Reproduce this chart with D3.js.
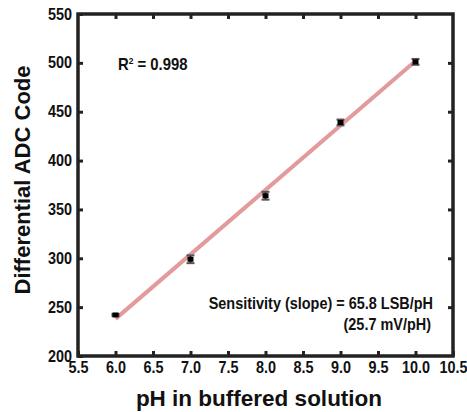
<!DOCTYPE html>
<html>
<head>
<meta charset="utf-8">
<script src="https://cdn.jsdelivr.net/npm/d3@7"></script>
<style>
  body { margin: 0; background: #fff; }
  text { font-family: "Liberation Sans", Arial, sans-serif; font-weight: bold; fill: #111; }
</style>
</head>
<body>
<svg id="chart" width="467" height="412"></svg>
<script>
const PH = [6, 7, 8, 9, 10]
const ADC = [242, 299, 364, 439, 501]
const ERR = [1, 4, 4, 3, 3]
const FIT_X = [6, 10]
const FIT_Y = [238, 502]
const X_TICKS = [5.5, 6.0, 6.5, 7.0, 7.5, 8.0, 8.5, 9.0, 9.5, 10.0, 10.5]
const Y_TICKS = [200, 250, 300, 350, 400, 450, 500, 550]

const LEFT = 78, RIGHT = 453, TOP = 14, BOTTOM = 356;
const AXIS = "#222";

let svg = d3.select("#chart");

let x = d3.scaleLinear().domain([5.5, 10.5]).range([LEFT, RIGHT]);
let y = d3.scaleLinear().domain([200, 550]).range([BOTTOM, TOP]);

// squeeze text horizontally around its own x, to get the narrow look of the original
function condense(sel, f) {
  sel.each(function () {
    let t = d3.select(this);
    let x0 = +t.attr("x") || 0;
    t.attr("x", x0 / f).attr("transform", `scale(${f},1)`);
  });
}

// axes, ticks pointing inward
let bottomAxis = d3.axisBottom(x).tickValues(X_TICKS).tickFormat(d3.format(".1f")).tickSizeInner(-5).tickSizeOuter(0).tickPadding(6);
let leftAxis = d3.axisLeft(y).tickValues(Y_TICKS).tickSizeInner(-5).tickSizeOuter(0).tickPadding(6);
let topAxis = d3.axisTop(x).tickValues(X_TICKS.slice(1, -1)).tickSizeInner(-5).tickSizeOuter(0).tickFormat("");
let rightAxis = d3.axisRight(y).tickValues(Y_TICKS.slice(1, -1)).tickSizeInner(-5).tickSizeOuter(0).tickFormat("");

function style(g) {
  g.select(".domain").remove();
  g.selectAll(".tick line").attr("stroke", AXIS).attr("stroke-width", 3);
  g.selectAll(".tick text").attr("font-size", 16).attr("fill", "#111").call(condense, 0.9);
}

svg.append("g").attr("transform", `translate(0,${BOTTOM})`).call(bottomAxis).call(style);
svg.append("g").attr("transform", `translate(${LEFT},0)`).call(leftAxis).call(style);
svg.append("g").attr("transform", `translate(0,${TOP})`).call(topAxis).call(style);
svg.append("g").attr("transform", `translate(${RIGHT},0)`).call(rightAxis).call(style);

// frame
svg.append("rect").attr("x", LEFT).attr("y", TOP).attr("width", RIGHT - LEFT).attr("height", BOTTOM - TOP)
  .attr("fill", "none").attr("stroke", AXIS).attr("stroke-width", 3.5);

// fit line
svg.append("line")
  .attr("x1", x(FIT_X[0])).attr("y1", y(FIT_Y[0]))
  .attr("x2", x(FIT_X[1])).attr("y2", y(FIT_Y[1]))
  .attr("stroke", "#e39a9b").attr("stroke-width", 4);

// error bars
let pts = svg.append("g").selectAll("g").data(PH).join("g");
pts.append("line")
  .attr("x1", d => x(d)).attr("x2", d => x(d))
  .attr("y1", (d, i) => y(ADC[i] - ERR[i])).attr("y2", (d, i) => y(ADC[i] + ERR[i]))
  .attr("stroke", "#111").attr("stroke-width", 2);
for (let s of [-1, 1]) {
  pts.append("line")
    .attr("x1", d => x(d) - 4).attr("x2", d => x(d) + 4)
    .attr("y1", (d, i) => y(ADC[i] + s * ERR[i])).attr("y2", (d, i) => y(ADC[i] + s * ERR[i]))
    .attr("stroke", "#555").attr("stroke-width", 2);
}
pts.append("rect")
  .attr("x", d => x(d) - 3).attr("y", (d, i) => y(ADC[i]) - 2.5)
  .attr("width", 6).attr("height", 5).attr("fill", "#000");

// annotations
let r2 = svg.append("text").attr("x", 118).attr("y", 70).attr("font-size", 16);
r2.append("tspan").text("R");
r2.append("tspan").text("2").attr("font-size", 9).attr("dy", -6);
r2.append("tspan").text(" = 0.998").attr("dy", 6);
condense(r2, 0.93);

let note = svg.append("g").attr("font-size", 17).attr("text-anchor", "end");
note.append("text").attr("x", 433).attr("y", 309).text("Sensitivity (slope) = 65.8 LSB/pH");
note.append("text").attr("x", 431).attr("y", 330).text("(25.7 mV/pH)");
note.selectAll("text").call(condense, 0.85);

// axis titles
svg.append("text").attr("x", 259).attr("y", 406).attr("text-anchor", "middle").attr("font-size", 22.5)
  .text("pH in buffered solution");
svg.append("text").attr("transform", `translate(30,180) rotate(-90)`).attr("text-anchor", "middle").attr("font-size", 22)
  .text("Differential ADC Code");
</script>
</body>
</html>
